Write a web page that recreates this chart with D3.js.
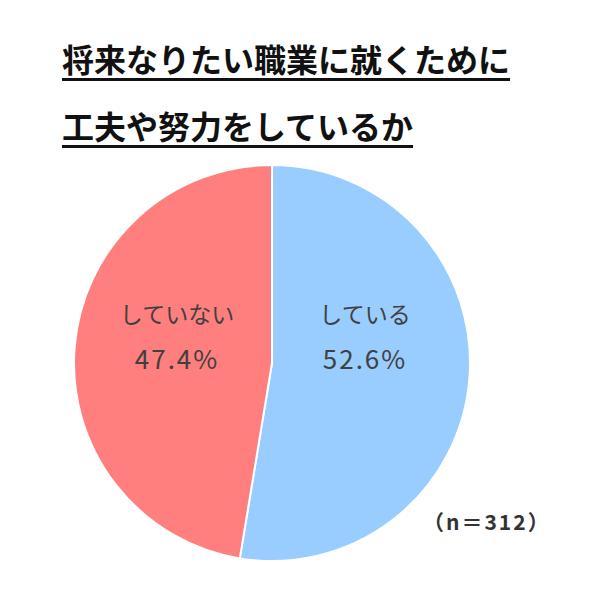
<!DOCTYPE html>
<html><head><meta charset="utf-8">
<script src="https://cdn.jsdelivr.net/npm/d3@7"></script>
<style>body{margin:0;background:#fff}</style></head>
<body><script>
const titleLines=["将来なりたい職業に就くために","工夫や努力をしているか"];
const categories=["している","していない"];
const values=[52.6,47.4];
const colors=["#99CCFF","#FF7F7F"];
const note="（n＝312）";
const W=600,H=608,cx=272,cy=363,r=198;
const svg=d3.select("body").append("svg").attr("width",W).attr("height",H);
const font="'Noto Sans CJK JP',sans-serif";
titleLines.forEach((t,i)=>{
  const tx=svg.append("text").attr("x",62).attr("y",72+i*67).attr("font-family",font)
    .attr("font-weight","bold").attr("font-size",32).attr("fill","#111").text(t);
  const bb=tx.node().getBBox();
  svg.append("rect").attr("x",bb.x).attr("y",72+i*67+6).attr("width",bb.width).attr("height",3).attr("fill","#111");
});
const pie=d3.pie().sort(null).value(d=>d)(values);
const arc=d3.arc().innerRadius(0).outerRadius(r);
const g=svg.append("g").attr("transform",`translate(${cx},${cy})`);
g.selectAll("path").data(pie).join("path").attr("d",arc).attr("fill",(d,i)=>colors[i])
  .attr("stroke","#fff").attr("stroke-width",2);
pie.forEach((d,i)=>{
  const lx=i===0?93:-95;
  const t=g.append("text").attr("text-anchor","middle").attr("font-family",font).attr("fill","#404040");
  t.append("tspan").attr("x",lx).attr("y",-40).attr("font-size",23).text(categories[i]);
  t.append("tspan").attr("x",lx).attr("y",6).attr("font-size",26).attr("letter-spacing",2).text(values[i].toFixed(1)+"%");
});
svg.append("text").attr("x",423).attr("y",530).attr("font-family",font).attr("font-weight","bold")
  .attr("font-size",21).attr("letter-spacing",2).attr("fill","#333").text(note);
</script></body></html>
